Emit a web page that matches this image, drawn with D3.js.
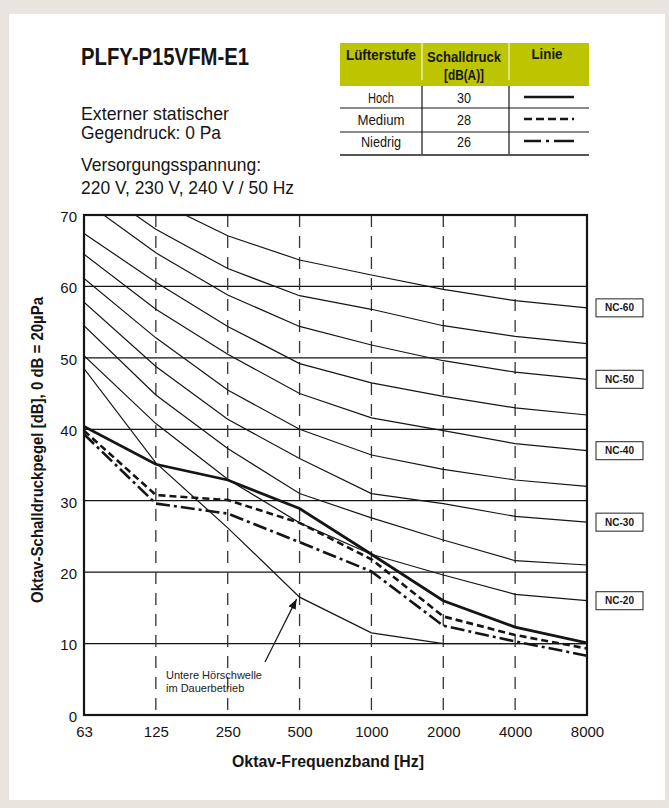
<!DOCTYPE html>
<html>
<head>
<meta charset="utf-8">
<script src="https://cdn.jsdelivr.net/npm/d3@7"></script>
<style>
  body { margin: 0; background: #e9e4de; }
  svg { display: block; }
</style>
</head>
<body>
<svg id="chart" width="669" height="808"></svg>
<script>
// Octave bands and axis ticks
const freqs = ["63", "125", "250", "500", "1000", "2000", "4000", "8000"];
const yTicks = [0, 10, 20, 30, 40, 50, 60, 70];

// NC reference curves, dB per octave band
const nc60 = [78, 72, 67.1, 63.7, 61.6, 59.6, 58, 57];
const nc55 = [75, 68, 62.5, 58.7, 56.8, 54.5, 53, 52];
const nc50 = [72, 64.7, 58.8, 54.4, 51.8, 49.6, 48, 47];
const nc45 = [67.4, 60.6, 54.4, 49.2, 46.5, 44.6, 43, 42];
const nc40 = [64.5, 56.8, 50.5, 45.0, 41.6, 39.8, 38, 37];
const nc35 = [61.1, 52.8, 45.5, 40.0, 36.4, 34.4, 32.9, 32];
const nc30 = [57.8, 48.8, 41.4, 35.9, 31.0, 29.6, 27.8, 27];
const nc25 = [54.5, 44.8, 37.3, 31.0, 27.6, 24.5, 21.6, 21];
const nc20 = [50.3, 40.8, 33.0, 26.9, 22.5, 19.6, 16.9, 16];
const ncCurves = [nc60, nc55, nc50, nc45, nc40, nc35, nc30, nc25, nc20];
const ncLabelNames = ["NC-60", "NC-50", "NC-40", "NC-30", "NC-20"];
const ncLabelCurves = [nc60, nc50, nc40, nc30, nc20];

// Lower threshold of hearing (continuous sound)
const threshold = [48.5, 35.3, 26.2, 16.5, 11.5, 10.0, 10.0, 10.0];

// Unit sound pressure per fan speed
const hoch = [40.4, 35.1, 32.9, 28.9, 22.5, 16.0, 12.3, 10.1];
const medium = [39.8, 30.8, 30.1, 26.9, 21.8, 13.8, 11.2, 9.3];
const niedrig = [39.3, 29.6, 28.2, 24.2, 20.1, 12.5, 10.3, 8.3];

// Legend table
const fanLevels = ["Hoch", "Medium", "Niedrig"];
const fanDbA = [30, 28, 26];

const svg = d3.select("#chart");
const ink = "#151515";
const sans = "'Liberation Sans', Arial, sans-serif";
const narrow = "'Liberation Sans Narrow', 'Liberation Sans', Arial, sans-serif";

// Panel
svg.append("rect").attr("width", 669).attr("height", 808).attr("fill", "#e9e4de");
svg.append("rect").attr("x", 9).attr("y", 14).attr("width", 656).attr("height", 786).attr("fill", "#fff");

// Heading texts (condensed)
function condensed(txt, xPos, yPos, size, weight, len, anchor) {
  return svg.append("text")
    .attr("x", xPos).attr("y", yPos)
    .attr("font-family", narrow).attr("font-size", size).attr("font-weight", weight)
    .attr("fill", ink)
    .attr("text-anchor", anchor || "start")
    .attr("textLength", len).attr("lengthAdjust", "spacingAndGlyphs")
    .text(txt);
}
condensed("PLFY-P15VFM-E1", 81, 65, 23, "bold", 168);
condensed("Externer statischer", 81, 120, 19, "normal", 148);
condensed("Gegendruck: 0 Pa", 81, 139, 19, "normal", 140);
condensed("Versorgungsspannung:", 81, 171, 19, "normal", 180);
condensed("220 V, 230 V, 240 V / 50 Hz", 81, 194, 19, "normal", 213);

// Legend table
const tbl = svg.append("g");
const colX = [340, 422, 509, 589];
tbl.append("rect").attr("x", colX[0]).attr("y", 43).attr("width", colX[3] - colX[0]).attr("height", 43).attr("fill", "#bdc500");
[colX[1], colX[2]].forEach(cx => {
  tbl.append("line").attr("x1", cx).attr("x2", cx).attr("y1", 43).attr("y2", 80).attr("stroke", "#fff").attr("stroke-width", 1);
  tbl.append("line").attr("x1", cx).attr("x2", cx).attr("y1", 86).attr("y2", 155).attr("stroke", ink).attr("stroke-width", 1.2);
});
function cellText(txt, cx, cy, weight, len) {
  tbl.append("text").attr("x", cx).attr("y", cy)
    .attr("text-anchor", "middle")
    .attr("font-family", narrow).attr("font-size", 14).attr("font-weight", weight)
    .attr("fill", ink)
    .attr("textLength", len).attr("lengthAdjust", "spacingAndGlyphs")
    .text(txt);
}
cellText("Lüfterstufe", 381, 60, "bold", 70);
cellText("Schalldruck", 464, 62, "bold", 74);
cellText("[dB(A)]", 464, 80, "bold", 40);
cellText("Linie", 547, 59, "bold", 31);

const rowTop = [86, 108, 132];
const rowBase = [103, 125, 147];
const rowStyles = [
  { dash: null },
  { dash: "8,4" },
  { dash: "17,5,3,5,20" }
];
const rowTextLen = [{ lvl: 26, db: 14 }, { lvl: 47, db: 14 }, { lvl: 40, db: 14 }];
fanLevels.forEach((lvl, i) => {
  cellText(lvl, 381, rowBase[i], "normal", rowTextLen[i].lvl);
  cellText(String(fanDbA[i]), 464, rowBase[i], "normal", rowTextLen[i].db);
  const ly = rowBase[i] - 6;
  tbl.append("line").attr("x1", 524).attr("x2", 574).attr("y1", ly).attr("y2", ly)
    .attr("stroke", ink).attr("stroke-width", 2.6)
    .attr("stroke-dasharray", rowStyles[i].dash);
});
[108, 132].forEach(ly => {
  tbl.append("line").attr("x1", colX[0]).attr("x2", colX[3]).attr("y1", ly).attr("y2", ly).attr("stroke", ink).attr("stroke-width", 1.2);
});
tbl.append("line").attr("x1", colX[0]).attr("x2", colX[3]).attr("y1", 155).attr("y2", 155).attr("stroke", "#555").attr("stroke-width", 2);

// Scales
const x = d3.scalePoint().domain(freqs).range([84, 587]);
const y = d3.scaleLinear().domain([0, 70]).range([715, 215]);
const x0 = x(freqs[0]), x1 = x(freqs[freqs.length - 1]);

svg.append("clipPath").attr("id", "plotClip")
  .append("rect").attr("x", x0).attr("y", y(70)).attr("width", x1 - x0).attr("height", y(0) - y(70));

// Grid
const grid = svg.append("g");
yTicks.filter(v => v > 0 && v < 70).forEach(v => {
  grid.append("line").attr("x1", x0).attr("x2", x1).attr("y1", y(v)).attr("y2", y(v))
    .attr("stroke", ink).attr("stroke-width", 1.3);
});
freqs.slice(1, -1).forEach(f => {
  grid.append("line").attr("x1", x(f)).attr("x2", x(f)).attr("y1", y(70)).attr("y2", y(0))
    .attr("stroke", "#333").attr("stroke-width", 1.3).attr("stroke-dasharray", "12,9");
});

// Curves
const line = d3.line().x((d, i) => x(freqs[i])).y(d => y(d));
const curves = svg.append("g").attr("clip-path", "url(#plotClip)");
ncCurves.forEach(c => {
  curves.append("path").attr("d", line(c)).attr("fill", "none").attr("stroke", ink).attr("stroke-width", 1.2);
});
curves.append("path").attr("d", line(threshold)).attr("fill", "none").attr("stroke", ink).attr("stroke-width", 1.2);

curves.append("path").attr("d", line(niedrig)).attr("fill", "none").attr("stroke", ink)
  .attr("stroke-width", 2.6).attr("stroke-dasharray", "14,4,3,4");
curves.append("path").attr("d", line(medium)).attr("fill", "none").attr("stroke", ink)
  .attr("stroke-width", 2.6).attr("stroke-dasharray", "7,4");
curves.append("path").attr("d", line(hoch)).attr("fill", "none").attr("stroke", ink)
  .attr("stroke-width", 2.8);

// Plot frame
svg.append("rect").attr("x", x0).attr("y", y(70)).attr("width", x1 - x0).attr("height", y(0) - y(70))
  .attr("fill", "none").attr("stroke", ink).attr("stroke-width", 2.2);

// Axes
const yAxis = svg.append("g").attr("transform", `translate(${x0},0)`)
  .call(d3.axisLeft(y).tickValues(yTicks).tickSize(0).tickPadding(7));
const xAxis = svg.append("g").attr("transform", `translate(0,${y(0)})`)
  .call(d3.axisBottom(x).tickSize(0).tickPadding(11));
[yAxis, xAxis].forEach(a => {
  a.select(".domain").remove();
  a.selectAll("text").attr("font-family", sans).attr("font-size", 15).attr("fill", ink);
});
yAxis.selectAll("text").attr("dy", "0.42em");

// Axis titles
svg.append("text").attr("x", 328).attr("y", 767).attr("text-anchor", "middle")
  .attr("font-family", narrow).attr("font-size", 16).attr("font-weight", "bold").attr("fill", ink)
  .attr("textLength", 192).attr("lengthAdjust", "spacingAndGlyphs")
  .text("Oktav-Frequenzband [Hz]");
svg.append("text").attr("transform", "translate(43,450) rotate(-90)").attr("text-anchor", "middle")
  .attr("font-family", narrow).attr("font-size", 16).attr("font-weight", "bold").attr("fill", ink)
  .attr("textLength", 306).attr("lengthAdjust", "spacingAndGlyphs")
  .text("Oktav-Schalldruckpegel [dB], 0 dB = 20µPa");

// NC labels
ncLabelNames.forEach((name, i) => {
  const cy = y(ncLabelCurves[i][freqs.length - 1]);
  svg.append("rect").attr("x", 596).attr("y", cy - 9).attr("width", 47).attr("height", 18)
    .attr("fill", "#fff").attr("stroke", "#222").attr("stroke-width", 1);
  svg.append("text").attr("x", 619.5).attr("y", cy + 3.6).attr("text-anchor", "middle")
    .attr("font-family", sans).attr("font-size", 10).attr("font-weight", "bold").attr("fill", ink)
    .text(name);
});

// Threshold annotation
const defs = svg.append("defs");
defs.append("marker").attr("id", "arrowHead").attr("viewBox", "0 0 10 10")
  .attr("refX", 10).attr("refY", 5).attr("markerWidth", 10).attr("markerHeight", 10)
  .attr("markerUnits", "userSpaceOnUse").attr("orient", "auto")
  .append("path").attr("d", "M0,1 L10,5 L0,9 Z").attr("fill", ink);
svg.append("line").attr("x1", 265).attr("y1", 662).attr("x2", x("500") - 3).attr("y2", y(threshold[3]) + 2)
  .attr("stroke", ink).attr("stroke-width", 1.2).attr("marker-end", "url(#arrowHead)");
svg.append("text").attr("x", 166).attr("y", 679)
  .attr("font-family", sans).attr("font-size", 11).attr("fill", "#222")
  .text("Untere Hörschwelle");
svg.append("text").attr("x", 166).attr("y", 691.5)
  .attr("font-family", sans).attr("font-size", 11).attr("fill", "#222")
  .text("im Dauerbetrieb");
</script>
</body>
</html>
